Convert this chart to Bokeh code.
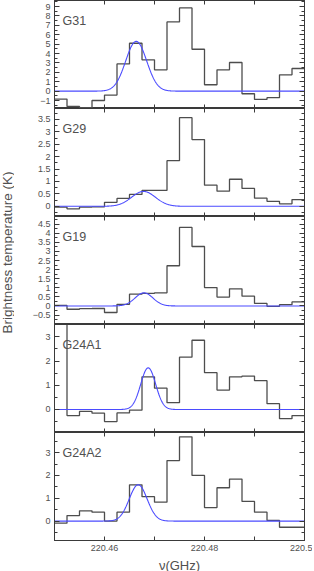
import numpy as np
from bokeh.plotting import figure
from bokeh.models import LinearAxis, FixedTicker, Range1d, Label
from bokeh.layouts import column, row
from bokeh.embed import file_html
from bokeh.resources import INLINE

# ---------------- data ----------------
bin_edges = [220.4500, 220.4525, 220.4550, 220.4575, 220.4600, 220.4625, 220.4650,
             220.4675, 220.4700, 220.4725, 220.4750, 220.4775, 220.4800, 220.4825,
             220.4850, 220.4875, 220.4900, 220.4925, 220.4950, 220.4975, 220.5000]

source_names = ["G31", "G29", "G19", "G24A1", "G24A2"]

tb_g31 = [-0.85, -1.63, -1.77, -1.0, -0.42, 2.9, 5.1, 3.33, 2.27, 7.37,
          8.86, 4.46, 0.68, 2.27, 3.05, -0.28, -0.88, -0.7, 1.74, 2.41]
tb_g29 = [-0.03, -0.1, -0.03, -0.02, 0.16, 0.32, 0.48, 0.64, 0.64, 1.84,
          3.57, 2.69, 0.85, 0.61, 1.09, 0.72, 0.33, 0.2, 0.1, 0.27]
tb_g19 = [0.03, -0.18, -0.15, -0.14, -0.36, 0.09, 0.65, 0.69, 0.72, 2.21,
          4.32, 3.27, 1.01, 0.49, 0.94, 0.54, 0.14, -0.02, 0.07, 0.22]
tb_g24a1 = [10.0, -0.25, -0.08, -0.15, -0.5, -0.14, -0.03, 1.35, 0.88, 0.28,
            2.16, 2.86, 1.52, 0.8, 1.35, 1.38, 1.19, 0.24, -0.38, -0.25]
tb_g24a2 = [-0.09, 0.24, 0.45, 0.39, 0.0, 0.39, 1.59, 1.07, 0.83, 2.65,
            3.69, 2.0, 0.59, 1.46, 1.84, 0.86, 0.39, 0.03, -0.27, -0.27]
spectra = [tb_g31, tb_g29, tb_g19, tb_g24a1, tb_g24a2]

# Gaussian fit parameters: amplitude (K), centre (GHz), sigma (GHz)
fit_amp = [5.3, 0.6, 0.72, 1.72, 1.59]
fit_center = [220.46634, 220.4678, 220.4679, 220.46874, 220.46674]
fit_sigma = [0.0021, 0.0024, 0.0018, 0.0015, 0.0018]

y_limits = [(-1.85, 9.65), (-0.41, 3.94), (-1.02, 4.92), (-0.95, 3.51), (-0.85, 3.88)]

y_major_ticks = [
    [-1, 0, 1, 2, 3, 4, 5, 6, 7, 8, 9],
    [0, 0.5, 1, 1.5, 2, 2.5, 3, 3.5],
    [-0.5, 0, 0.5, 1, 1.5, 2, 2.5, 3, 3.5, 4, 4.5],
    [0, 1, 2, 3],
    [0, 1, 2, 3],
]
y_tick_labels = [
    ["\u22121", "0", "1", "2", "3", "4", "5", "6", "7", "8", "9"],
    ["0", "0.5", "1", "1.5", "2", "2.5", "3", "3.5"],
    ["\u22120.5", "0", "0.5", "1", "1.5", "2", "2.5", "3", "3.5", "4", "4.5"],
    ["0", "1", "2", "3"],
    ["0", "1", "2", "3"],
]
y_minor_ticks = [
    [-1.5, -0.5, 0.5, 1.5, 2.5, 3.5, 4.5, 5.5, 6.5, 7.5, 8.5, 9.5],
    [-0.25, 0.25, 0.75, 1.25, 1.75, 2.25, 2.75, 3.25, 3.75],
    [-0.75, -0.25, 0.25, 0.75, 1.25, 1.75, 2.25, 2.75, 3.25, 3.75, 4.25, 4.75],
    [-0.5, 0.5, 1.5, 2.5, 3.5],
    [-0.5, 0.5, 1.5, 2.5, 3.5],
]

x_ticks = [220.45, 220.46, 220.47, 220.48, 220.49, 220.5]
x_tick_labels = ["", "220.46", "", "220.48", "", "220.5"]

# ---------------- style ----------------
AX = "#3a3a3a"
FONT = "Liberation Sans"
TXT = "#505050"
HIST = "#4d4d4d"
BLUE = "#4b4bff"
FRAME_H = 108
BOTTOM = 30


def style_axis(ax, ticks, minor, labels, show_labels, major_in, minor_in):
    ax.ticker = FixedTicker(ticks=ticks, minor_ticks=minor)
    ax.axis_line_color = AX
    ax.major_tick_line_color = AX
    ax.minor_tick_line_color = AX
    ax.major_tick_in = major_in
    ax.major_tick_out = 0
    ax.minor_tick_in = minor_in
    ax.minor_tick_out = 0
    if show_labels:
        ax.major_label_overrides = {t: l for t, l in zip(ticks, labels)}
        ax.major_label_text_font = FONT
        ax.major_label_text_font_size = "9px"
        ax.major_label_text_color = TXT
        ax.major_label_standoff = 4
    else:
        ax.major_label_overrides = {t: "" for t in ticks}
        ax.major_label_text_font_size = "0px"
        ax.major_label_standoff = 0


panels = []
xs = np.linspace(220.45, 220.5, 600)
for i, name in enumerate(source_names):
    last = i == len(source_names) - 1
    ymin, ymax = y_limits[i]
    p = figure(frame_width=250, frame_height=FRAME_H,
               x_range=Range1d(220.45, 220.5), y_range=Range1d(ymin, ymax),
               output_backend="svg", toolbar_location=None,
               min_border_left=40, min_border_right=8,
               min_border_top=0, min_border_bottom=(BOTTOM if last else 0))
    p.grid.visible = False
    p.outline_line_color = AX
    p.background_fill_color = "white"
    p.border_fill_color = "white"

    # bottom x axis
    style_axis(p.xaxis[0], x_ticks, [], x_tick_labels, last, 4, 0)
    if last:
        p.xaxis[0].axis_label = "\u03bd(GHz)"
        p.xaxis[0].axis_label_text_font = FONT
        p.xaxis[0].axis_label_text_font_size = "13px"
        p.xaxis[0].axis_label_text_font_style = "normal"
        p.xaxis[0].axis_label_text_color = TXT
        p.xaxis[0].axis_label_standoff = 4
    # top x axis
    top = LinearAxis()
    style_axis(top, x_ticks, [], x_tick_labels, False, 4, 0)
    p.add_layout(top, "above")
    # left y axis
    style_axis(p.yaxis[0], y_major_ticks[i], y_minor_ticks[i], y_tick_labels[i], True, 5, 3)
    # right y axis
    right = LinearAxis()
    style_axis(right, y_major_ticks[i], y_minor_ticks[i], y_tick_labels[i], False, 5, 3)
    p.add_layout(right, "right")

    vals = spectra[i]
    p.step(bin_edges, vals + [vals[-1]], mode="after", line_color=HIST, line_width=1.3)

    model = fit_amp[i] * np.exp(-0.5 * ((xs - fit_center[i]) / fit_sigma[i]) ** 2)
    p.line(xs, model, line_color=BLUE, line_width=1.1)

    p.add_layout(Label(x=220.4516, y=ymax - 0.19 * (ymax - ymin), text=name,
                       text_font=FONT, text_font_size="12.5px", text_color=TXT,
                       text_baseline="alphabetic"))
    panels.append(p)

col = column(*panels, spacing=0)

YLAB_H = 5 * FRAME_H + BOTTOM
ylab = figure(width=14, height=YLAB_H, x_range=Range1d(0, 1), y_range=Range1d(0, 1),
              output_backend="svg", toolbar_location=None, min_border=0)
ylab.axis.visible = False
ylab.grid.visible = False
ylab.outline_line_color = None
ylab.add_layout(Label(x=0.5, y=1 - 252 / YLAB_H, text="Brightness temperature (K)",
                      angle=np.pi / 2, text_align="center", text_baseline="middle",
                      text_font=FONT, text_font_size="13.5px", text_color=TXT))

layout = row(ylab, col, spacing=0)

with open("out.html", "w") as f:
    f.write(file_html(layout, INLINE))
